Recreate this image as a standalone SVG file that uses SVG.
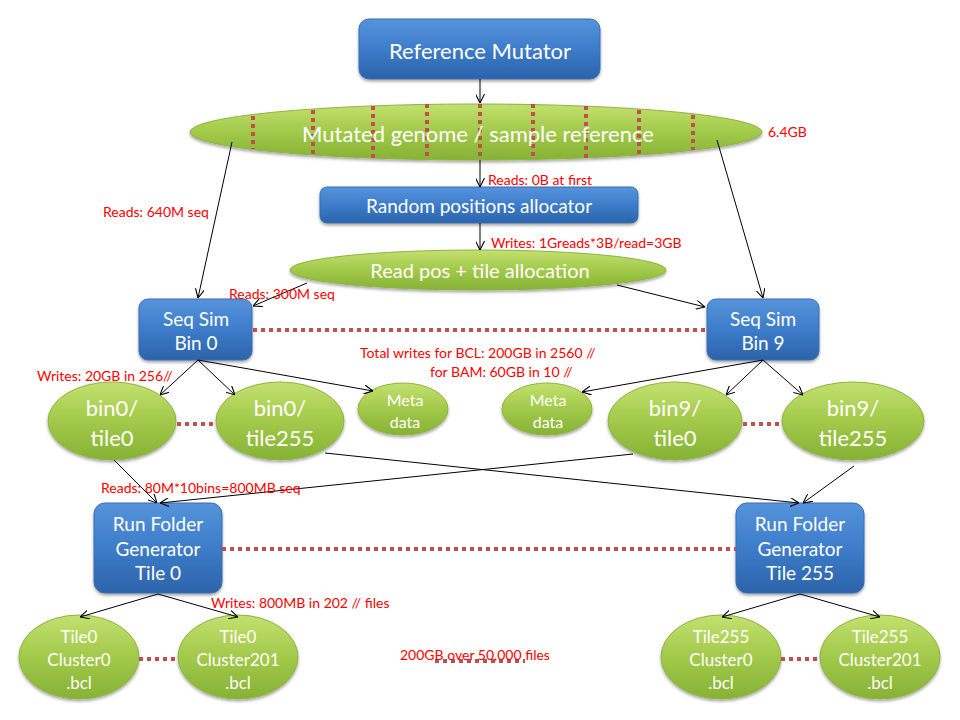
<svg xmlns="http://www.w3.org/2000/svg" width="960" height="720" viewBox="0 0 960 720">
<defs>
<linearGradient id="blue" x1="0" y1="0" x2="0" y2="1">
<stop offset="0" stop-color="#5594dc"/>
<stop offset="0.5" stop-color="#3d7cc9"/>
<stop offset="1" stop-color="#2c63aa"/>
</linearGradient>
<linearGradient id="green" x1="0" y1="0" x2="0" y2="1">
<stop offset="0" stop-color="#c3e06f"/>
<stop offset="0.5" stop-color="#a2c94a"/>
<stop offset="1" stop-color="#86b234"/>
</linearGradient>
<filter id="sh" x="-10%" y="-10%" width="120%" height="130%">
<feDropShadow dx="0" dy="2" stdDeviation="1.5" flood-color="#000" flood-opacity="0.35"/>
</filter>
<marker id="arr" viewBox="0 0 10 10" refX="10" refY="5" markerWidth="9" markerHeight="9" orient="auto" markerUnits="userSpaceOnUse">
<path d="M0,0 L10,5 L0,10" fill="none" stroke="#000" stroke-width="1.2"/>
</marker>
</defs>
<style>
.box{fill:url(#blue);stroke:#3a6db0;stroke-width:1;filter:url(#sh)}
.ell{fill:url(#green);stroke:#8db53e;stroke-width:1;filter:url(#sh)}
.t{font-family:Lato,"Liberation Sans",sans-serif;fill:#fff;text-anchor:middle;dominant-baseline:central}
.lbl{font-family:Lato,"Liberation Sans",sans-serif;fill:#ff0000;font-size:14px}
.dot{stroke:#c0504d;stroke-width:4;stroke-dasharray:4 4;fill:none}
.c{stroke:#000;stroke-width:1;fill:none;marker-end:url(#arr)}
</style>
<rect width="960" height="720" fill="#fff"/>

<g id="refmut">
<rect class="box" x="359" y="19" width="241" height="60" rx="10"/>
<text class="t" x="480" y="50" font-size="22">Reference Mutator</text>
</g>

<g id="mutgenome">
<ellipse class="ell" cx="476" cy="132" rx="286" ry="28"/>
<g class="dot">
<line x1="253" y1="116" x2="253" y2="149"/>
<line x1="313" y1="110" x2="313" y2="155"/>
<line x1="373" y1="106" x2="373" y2="158"/>
<line x1="427" y1="104" x2="427" y2="160"/>
<line x1="480" y1="104" x2="480" y2="160"/>
<line x1="533" y1="104" x2="533" y2="160"/>
<line x1="586" y1="106" x2="586" y2="158"/>
<line x1="639" y1="110" x2="639" y2="155"/>
<line x1="693" y1="115" x2="693" y2="150"/>
</g>
<text class="t" x="478" y="133" font-size="22">Mutated genome / sample reference</text>
</g>
<text class="lbl" x="768" y="137">6.4GB</text>

<g id="randpos">
<rect class="box" x="320" y="187" width="318" height="36" rx="7"/>
<text class="t" x="479" y="205" font-size="19">Random positions allocator</text>
</g>

<g id="readpos">
<ellipse class="ell" cx="478" cy="270" rx="188" ry="20"/>
<text class="t" x="480" y="270" font-size="20">Read pos + tile allocation</text>
</g>

<g id="seqsim0">
<rect class="box" x="139" y="299" width="113" height="61" rx="9"/>
<text class="t" x="196" y="318" font-size="19">Seq Sim</text>
<text class="t" x="196" y="342" font-size="19">Bin 0</text>
</g>

<g id="seqsim9">
<rect class="box" x="707" y="299" width="112" height="61" rx="9"/>
<text class="t" x="763" y="318" font-size="19">Seq Sim</text>
<text class="t" x="763" y="342" font-size="19">Bin 9</text>
</g>

<g id="bin0tile0">
<ellipse class="ell" cx="112" cy="421" rx="64" ry="39"/>
<text class="t" x="112" y="407" font-size="22">bin0/</text>
<text class="t" x="112" y="437" font-size="22">tile0</text>
</g>
<g id="bin0tile255">
<ellipse class="ell" cx="280" cy="421" rx="64" ry="39"/>
<text class="t" x="280" y="407" font-size="22">bin0/</text>
<text class="t" x="280" y="437" font-size="22">tile255</text>
</g>
<g id="meta0">
<ellipse class="ell" cx="403" cy="409" rx="45" ry="26"/>
<text class="t" x="405" y="399" font-size="16">Meta</text>
<text class="t" x="405" y="421" font-size="16">data</text>
</g>
<g id="meta9">
<ellipse class="ell" cx="547" cy="409" rx="45" ry="26"/>
<text class="t" x="548" y="399" font-size="16">Meta</text>
<text class="t" x="548" y="421" font-size="16">data</text>
</g>
<g id="bin9tile0">
<ellipse class="ell" cx="675" cy="421" rx="67" ry="39"/>
<text class="t" x="675" y="407" font-size="22">bin9/</text>
<text class="t" x="675" y="437" font-size="22">tile0</text>
</g>
<g id="bin9tile255">
<ellipse class="ell" cx="853" cy="421" rx="71" ry="39"/>
<text class="t" x="853" y="407" font-size="22">bin9/</text>
<text class="t" x="853" y="437" font-size="22">tile255</text>
</g>

<g id="rfg0">
<rect class="box" x="94" y="503" width="128" height="90" rx="11"/>
<text class="t" x="158" y="523" font-size="19">Run Folder</text>
<text class="t" x="158" y="548" font-size="19">Generator</text>
<text class="t" x="158" y="572" font-size="19">Tile 0</text>
</g>
<g id="rfg255">
<rect class="box" x="736" y="503" width="128" height="90" rx="11"/>
<text class="t" x="800" y="523" font-size="19">Run Folder</text>
<text class="t" x="800" y="548" font-size="19">Generator</text>
<text class="t" x="800" y="572" font-size="19">Tile 255</text>
</g>

<g id="t0c0">
<ellipse class="ell" cx="79" cy="657" rx="60" ry="42"/>
<text class="t" x="79" y="636" font-size="17">Tile0</text>
<text class="t" x="79" y="659" font-size="17">Cluster0</text>
<text class="t" x="79" y="682" font-size="17">.bcl</text>
</g>
<g id="t0c201">
<ellipse class="ell" cx="238" cy="657" rx="60" ry="42"/>
<text class="t" x="238" y="636" font-size="17">Tile0</text>
<text class="t" x="238" y="659" font-size="17">Cluster201</text>
<text class="t" x="238" y="682" font-size="17">.bcl</text>
</g>
<g id="t255c0">
<ellipse class="ell" cx="721" cy="657" rx="60" ry="42"/>
<text class="t" x="721" y="636" font-size="17">Tile255</text>
<text class="t" x="721" y="659" font-size="17">Cluster0</text>
<text class="t" x="721" y="682" font-size="17">.bcl</text>
</g>
<g id="t255c201">
<ellipse class="ell" cx="880" cy="657" rx="60" ry="42"/>
<text class="t" x="880" y="636" font-size="17">Tile255</text>
<text class="t" x="880" y="659" font-size="17">Cluster201</text>
<text class="t" x="880" y="682" font-size="17">.bcl</text>
</g>

<g id="dotted">
<line class="dot" x1="253" y1="330" x2="707" y2="330"/>
<line class="dot" x1="177" y1="424" x2="215" y2="424"/>
<line class="dot" x1="743" y1="424" x2="782" y2="424"/>
<line class="dot" x1="222" y1="549" x2="736" y2="549"/>
<line class="dot" x1="139" y1="659" x2="177" y2="659"/>
<line class="dot" x1="781" y1="659" x2="819" y2="659"/>
<line class="dot" x1="435" y1="661" x2="525" y2="661"/>
</g>

<g id="connectors">
<line class="c" x1="480" y1="79" x2="480" y2="103"/>
<line class="c" x1="480" y1="160" x2="480" y2="187"/>
<line class="c" x1="480" y1="223" x2="480" y2="250"/>
<line class="c" x1="232" y1="142" x2="198" y2="298"/>
<line class="c" x1="717" y1="140" x2="763" y2="298"/>
<line class="c" x1="307" y1="283" x2="253" y2="306"/>
<line class="c" x1="617" y1="285" x2="705" y2="307"/>
<line class="c" x1="198" y1="360" x2="160" y2="395"/>
<line class="c" x1="198" y1="360" x2="235" y2="395"/>
<line class="c" x1="198" y1="360" x2="373" y2="391"/>
<line class="c" x1="763" y1="360" x2="582" y2="392"/>
<line class="c" x1="763" y1="360" x2="726" y2="395"/>
<line class="c" x1="763" y1="360" x2="803" y2="395"/>
<line class="c" x1="114" y1="460" x2="157" y2="503"/>
<line class="c" x1="633" y1="454" x2="160" y2="503"/>
<line class="c" x1="325" y1="453" x2="799" y2="503"/>
<line class="c" x1="854" y1="466" x2="803" y2="503"/>
<line class="c" x1="158" y1="594" x2="80" y2="617"/>
<line class="c" x1="158" y1="594" x2="238" y2="617"/>
<line class="c" x1="800" y1="594" x2="722" y2="617"/>
<line class="c" x1="800" y1="594" x2="880" y2="617"/>
</g>

<g id="labels">
<text class="lbl" x="488" y="185">Reads: 0B at first</text>
<text class="lbl" x="491" y="248">Writes: 1Greads*3B/read=3GB</text>
<text class="lbl" x="103" y="217">Reads: 640M seq</text>
<text class="lbl" x="229" y="299">Reads: 300M seq</text>
<text class="lbl" x="37" y="381">Writes: 20GB in 256//</text>
<text class="lbl" x="360" y="358">Total writes for BCL: 200GB in 2560 //</text>
<text class="lbl" x="430" y="377">for BAM: 60GB in 10 //</text>
<text class="lbl" x="101" y="493">Reads: 80M*10bins=800MB seq</text>
<text class="lbl" x="211" y="608">Writes: 800MB in 202 // files</text>
<text class="lbl" x="400" y="660">200GB over 50,000 files</text>
</g>
</svg>
